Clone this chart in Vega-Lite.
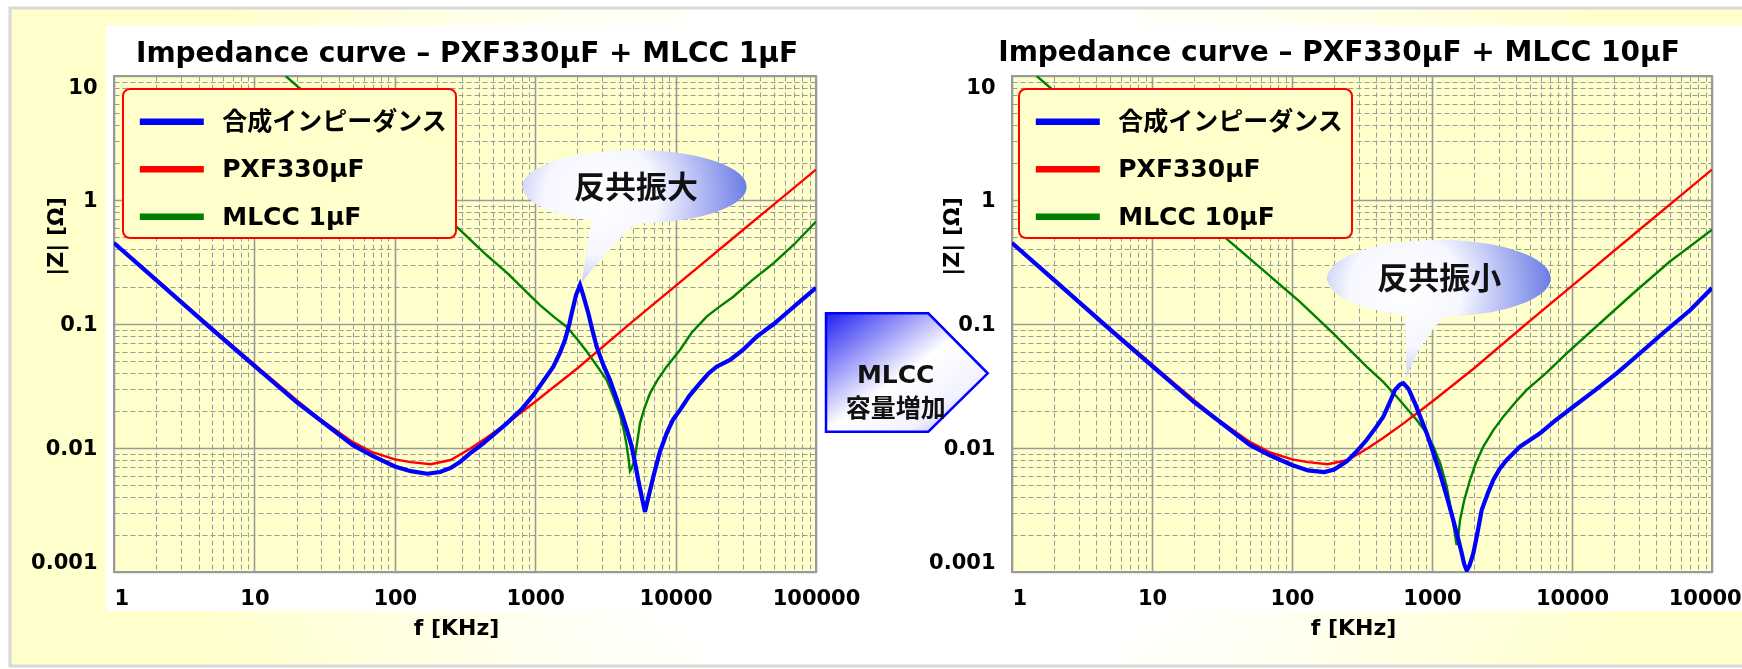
{
  "$schema": "https://vega.github.io/schema/vega-lite/v6.json",
  "autosize": {"type": "none"},
  "padding": {"left": 114, "top": 76, "right": 1628, "bottom": 593},
  "background": "#FFFFFF",
  "bounds": "flush",
  "spacing": 196,
  "datasets": {
    "pxf": [{"f":1,"z":0.455},{"f":2,"z":0.229},{"f":5,"z":0.0925},{"f":10,"z":0.0472},{"f":20,"z":0.0243},{"f":30,"z":0.0168},{"f":50,"z":0.0112},{"f":70,"z":0.0092},{"f":100,"z":0.0081},{"f":130,"z":0.0077},{"f":180,"z":0.0074},{"f":250,"z":0.0080},{"f":350,"z":0.0100},{"f":450,"z":0.0121},{"f":627,"z":0.0158},{"f":1000,"z":0.0236},{"f":2000,"z":0.044},{"f":5000,"z":0.106},{"f":10000,"z":0.203},{"f":30000,"z":0.57},{"f":100000,"z":1.76}],
    "blueL": [{"f":1,"z":0.45},{"f":2,"z":0.226},{"f":5,"z":0.0905},{"f":10,"z":0.046},{"f":20,"z":0.0234},{"f":30,"z":0.0165},{"f":50,"z":0.0106},{"f":70,"z":0.0086},{"f":100,"z":0.0071},{"f":130,"z":0.0065},{"f":170,"z":0.0062},{"f":210,"z":0.0064},{"f":250,"z":0.0069},{"f":291,"z":0.0077},{"f":350,"z":0.0092},{"f":427,"z":0.0109},{"f":520,"z":0.0132},{"f":627,"z":0.0158},{"f":800,"z":0.0205},{"f":970,"z":0.0267},{"f":1150,"z":0.035},{"f":1346,"z":0.0453},{"f":1500,"z":0.0585},{"f":1630,"z":0.0743},{"f":1750,"z":0.1},{"f":1820,"z":0.122},{"f":1950,"z":0.17},{"f":2085,"z":0.206},{"f":2200,"z":0.17},{"f":2390,"z":0.122},{"f":2550,"z":0.09},{"f":2740,"z":0.0656},{"f":3050,"z":0.047},{"f":3410,"z":0.0353},{"f":3750,"z":0.026},{"f":4130,"z":0.0191},{"f":4500,"z":0.014},{"f":4870,"z":0.01026},{"f":5150,"z":0.0075},{"f":5420,"z":0.00552},{"f":5750,"z":0.004},{"f":6050,"z":0.00306},{"f":6400,"z":0.004},{"f":6940,"z":0.00587},{"f":7700,"z":0.0092},{"f":8630,"z":0.01315},{"f":9600,"z":0.017},{"f":10740,"z":0.0202},{"f":12500,"z":0.0262},{"f":14920,"z":0.0333},{"f":17000,"z":0.0395},{"f":19600,"z":0.0453},{"f":24400,"z":0.0513},{"f":30000,"z":0.0615},{"f":37800,"z":0.079},{"f":50000,"z":0.1},{"f":65300,"z":0.1297},{"f":80000,"z":0.158},{"f":100000,"z":0.196}],
    "greenL": [{"f":16.7,"z":10},{"f":30,"z":5.6},{"f":50,"z":3.35},{"f":100,"z":1.68},{"f":200,"z":0.84},{"f":291,"z":0.575},{"f":450,"z":0.36},{"f":627,"z":0.26},{"f":850,"z":0.185},{"f":1082,"z":0.142},{"f":1400,"z":0.111},{"f":1675,"z":0.0951},{"f":2000,"z":0.075},{"f":2328,"z":0.06},{"f":2750,"z":0.046},{"f":3230,"z":0.0353},{"f":3600,"z":0.026},{"f":4020,"z":0.0185},{"f":4300,"z":0.0135},{"f":4480,"z":0.0105},{"f":4650,"z":0.0078},{"f":4730,"z":0.0065},{"f":4850,"z":0.0068},{"f":5000,"z":0.0075},{"f":5140,"z":0.0085},{"f":5350,"z":0.0115},{"f":5575,"z":0.0158},{"f":6000,"z":0.021},{"f":6570,"z":0.0276},{"f":7500,"z":0.036},{"f":8630,"z":0.0453},{"f":10740,"z":0.0617},{"f":13000,"z":0.085},{"f":16640,"z":0.1146},{"f":20000,"z":0.135},{"f":25760,"z":0.166},{"f":35000,"z":0.225},{"f":49650,"z":0.308},{"f":70000,"z":0.44},{"f":100000,"z":0.67}],
    "blueR": [{"f":1,"z":0.45},{"f":2,"z":0.226},{"f":5,"z":0.0905},{"f":10,"z":0.046},{"f":20,"z":0.0234},{"f":30,"z":0.0165},{"f":50,"z":0.0106},{"f":70,"z":0.0087},{"f":100,"z":0.0073},{"f":130,"z":0.0066},{"f":170,"z":0.0064},{"f":200,"z":0.0067},{"f":246,"z":0.0078},{"f":290,"z":0.0094},{"f":341,"z":0.0116},{"f":400,"z":0.0148},{"f":449,"z":0.0179},{"f":500,"z":0.0235},{"f":544,"z":0.0294},{"f":590,"z":0.0325},{"f":624,"z":0.0333},{"f":680,"z":0.03},{"f":756,"z":0.0229},{"f":830,"z":0.0175},{"f":917,"z":0.01315},{"f":1020,"z":0.0092},{"f":1140,"z":0.00625},{"f":1280,"z":0.004},{"f":1419,"z":0.00262},{"f":1530,"z":0.0019},{"f":1629,"z":0.00142},{"f":1700,"z":0.00115},{"f":1770,"z":0.00103},{"f":1850,"z":0.00112},{"f":1974,"z":0.00142},{"f":2100,"z":0.002},{"f":2264,"z":0.00316},{"f":2500,"z":0.0043},{"f":2741,"z":0.00552},{"f":3050,"z":0.0068},{"f":3415,"z":0.008},{"f":4253,"z":0.01026},{"f":5907,"z":0.01315},{"f":7500,"z":0.0165},{"f":10210,"z":0.0215},{"f":14500,"z":0.029},{"f":20830,"z":0.04},{"f":30000,"z":0.057},{"f":47400,"z":0.0895},{"f":70000,"z":0.1296},{"f":100000,"z":0.195}],
    "greenR": [{"f":1.5,"z":10},{"f":10,"z":1.59},{"f":30,"z":0.551},{"f":114,"z":0.151},{"f":197,"z":0.0841},{"f":341,"z":0.0453},{"f":450,"z":0.034},{"f":560,"z":0.0259},{"f":778,"z":0.0168},{"f":900,"z":0.0135},{"f":1023,"z":0.01026},{"f":1150,"z":0.0074},{"f":1274,"z":0.00488},{"f":1380,"z":0.003},{"f":1450,"z":0.0021},{"f":1500,"z":0.00165},{"f":1545,"z":0.002},{"f":1585,"z":0.00262},{"f":1700,"z":0.0038},{"f":1868,"z":0.00552},{"f":2050,"z":0.0075},{"f":2326,"z":0.01026},{"f":2750,"z":0.014},{"f":3230,"z":0.0179},{"f":4000,"z":0.0238},{"f":4745,"z":0.0294},{"f":6500,"z":0.04},{"f":9160,"z":0.058},{"f":15000,"z":0.0959},{"f":27400,"z":0.177},{"f":50000,"z":0.319},{"f":100000,"z":0.575}]
  },
  "hconcat": [
    {
      "width": 702,
      "height": 496,
      "title": {"text": "Impedance curve – PXF330μF + MLCC 1μF", "anchor": "middle", "frame": "group", "baseline": "alphabetic", "offset": -87.5, "dx": 2},
      "layer": [
        {
          "data": {"values": [{}]},
          "mark": {"type": "point", "filled": true, "opacity": 1, "size": 40000, "strokeWidth": 0, "blend": "multiply",
            "shape": "M-1.04,-0.68 L17,-0.68 L17,5.9 L-1.04,5.9 Z M-0.08,-0.504 L-0.08,5.35 L7.087,5.35 L7.087,-0.504 Z M8.893,-0.504 L8.893,5.35 L16.9,5.35 L16.9,-0.504 Z",
            "fill": {"gradient": "radial", "x1": 0.5, "y1": 0.5, "r1": 0, "x2": 0.5, "y2": 0.5, "r2": 0.5,
              "stops": [{"offset": 0, "color": "#FFFFFF"}, {"offset": 0.4, "color": "#FFFFFF"}, {"offset": 0.85, "color": "#FFFFCC"}, {"offset": 1, "color": "#FFFFCC"}]}},
          "encoding": {
            "x": {"datum": 1, "type": "quantitative"},
            "y": {"datum": 10, "type": "quantitative"}
          }
        },
        {
          "data": {"values": [{}]},
          "mark": {"type": "point", "filled": false, "opacity": 1, "size": 40000, "stroke": "#D8D8D8", "strokeWidth": 3,
            "shape": "M-1.04,-0.68 L17,-0.68 L17,5.9 L-1.04,5.9 Z"},
          "encoding": {
            "x": {"datum": 1, "type": "quantitative"},
            "y": {"datum": 10, "type": "quantitative"}
          }
        },
        {
          "data": {"name": "greenL"},
          "mark": {"type": "line", "strokeWidth": 2.4, "clip": true},
          "encoding": {
            "x": {"field": "f", "type": "quantitative", "scale": {"type": "log", "domain": [1, 100000], "nice": false},
              "axis": {"values": [1,2,3,4,5,6,7,8,9,10,20,30,40,50,60,70,80,90,100,200,300,400,500,600,700,800,900,1000,2000,3000,4000,5000,6000,7000,8000,9000,10000,20000,30000,40000,50000,60000,70000,80000,90000,100000],
                "labelExpr": "indexof([1,10,100,1000,10000,100000], datum.value) >= 0 ? format(datum.value, 'd') : ''",
                "gridDash": {"condition": {"test": "indexof([1,10,100,1000,10000,100000], datum.value) >= 0", "value": []}, "value": [5, 3]},
                "gridWidth": {"condition": {"test": "indexof([1,10,100,1000,10000,100000], datum.value) >= 0", "value": 1.6}, "value": 1},
                "labelAlign": {"condition": {"test": "datum.value == 1", "value": "left"}, "value": "center"},
                "title": "f [KHz]", "titleX": 342, "titleY": 55}},
            "y": {"field": "z", "type": "quantitative", "scale": {"type": "log", "domain": [0.001, 10], "nice": false},
              "axis": {"values": [0.001,0.002,0.003,0.004,0.005,0.006,0.007,0.008,0.009,0.01,0.02,0.03,0.04,0.05,0.06,0.07,0.08,0.09,0.1,0.2,0.3,0.4,0.5,0.6,0.7,0.8,0.9,1,2,3,4,5,6,7,8,9,10],
                "labelExpr": "indexof([0.001,0.01,0.1,1,10], datum.value) >= 0 ? '' + datum.value : ''",
                "gridDash": {"condition": {"test": "indexof([0.001,0.01,0.1,1,10], datum.value) >= 0", "value": []}, "value": [5, 3]},
                "gridWidth": {"condition": {"test": "indexof([0.001,0.01,0.1,1,10], datum.value) >= 0", "value": 1.6}, "value": 1},
                "title": "|Z| [Ω]", "titleX": -59, "titleY": 160}},
            "color": {"datum": "MLCC 1μF", "type": "nominal",
              "scale": {"domain": ["合成インピーダンス", "PXF330μF", "MLCC 1μF"], "range": ["#0000FF", "#FF0000", "#008000"]},
              "legend": {"legendX": 9, "legendY": 13, "title": " "}}
          }
        },
        {
          "data": {"name": "pxf"},
          "mark": {"type": "line", "strokeWidth": 2.4, "clip": true},
          "encoding": {
            "x": {"field": "f", "type": "quantitative"},
            "y": {"field": "z", "type": "quantitative"},
            "color": {"datum": "PXF330μF", "type": "nominal"}
          }
        },
        {
          "data": {"name": "blueL"},
          "mark": {"type": "line", "strokeWidth": 4.2, "clip": true},
          "encoding": {
            "x": {"field": "f", "type": "quantitative"},
            "y": {"field": "z", "type": "quantitative"},
            "color": {"datum": "合成インピーダンス", "type": "nominal"}
          }
        },
        {
          "data": {"values": [{}]},
          "mark": {"type": "point", "filled": true, "opacity": 1, "size": 40000, "strokeWidth": 0,
            "shape": "M1.667,-0.984 C1.667,-0.7813 1.1656,-0.617 0.547,-0.617 C-0.0716,-0.617 -0.573,-0.7813 -0.573,-0.984 C-0.573,-1.1867 -0.0716,-1.351 0.547,-1.351 C1.1656,-1.351 1.667,-1.1867 1.667,-0.984 Z M0.015,-0.02 L0.117,-0.66 L0.6,-0.64 Q0.3,-0.4 0.015,-0.02 Z",
            "fill": {"gradient": "radial", "x1": 0.35, "y1": 0.42, "r1": 0, "x2": 0.35, "y2": 0.42, "r2": 0.72,
              "stops": [{"offset": 0, "color": "#FFFFFF"}, {"offset": 0.35, "color": "#F6F7FF"}, {"offset": 1, "color": "#5568E2"}]}},
          "encoding": {
            "x": {"datum": 2085, "type": "quantitative"},
            "y": {"datum": 0.206, "type": "quantitative"}
          }
        },
        {
          "data": {"values": [{}]},
          "mark": {"type": "text", "text": "反共振大", "font": "Noto Sans CJK JP", "fontSize": 31, "fontWeight": "bold", "color": "#111111", "align": "center", "baseline": "middle", "dx": 56, "dy": -96},
          "encoding": {
            "x": {"datum": 2085, "type": "quantitative"},
            "y": {"datum": 0.206, "type": "quantitative"}
          }
        },
        {
          "data": {"values": [{}]},
          "mark": {"type": "point", "filled": true, "opacity": 1, "size": 40000, "stroke": "#0000FF", "strokeWidth": 2.5,
            "shape": "M-0.817,-0.6 L0.206,-0.6 L0.8,0 L0.206,0.584 L-0.817,0.584 Z",
            "fill": {"gradient": "linear", "x1": 0, "y1": 0, "x2": 1, "y2": 1,
              "stops": [{"offset": 0, "color": "#2020F2"}, {"offset": 0.5, "color": "#FFFFFF"}, {"offset": 0.75, "color": "#F2F2FF"}, {"offset": 1, "color": "#8A8AEC"}]}},
          "encoding": {
            "x": {"datum": 450000, "type": "quantitative"},
            "y": {"datum": 0.04, "type": "quantitative"}
          }
        },
        {
          "data": {"values": [{}]},
          "mark": {"type": "text", "text": "MLCC\n容量増加", "lineBreak": "\n", "lineHeight": 34, "font": "DejaVu Sans, Noto Sans CJK JP", "fontSize": 25, "fontWeight": "bold", "color": "#111111", "align": "center", "baseline": "middle", "dx": -12, "dy": 2},
          "encoding": {
            "x": {"datum": 450000, "type": "quantitative"},
            "y": {"datum": 0.04, "type": "quantitative"}
          }
        }
      ]
    },
    {
      "width": 700,
      "height": 496,
      "title": {"text": "Impedance curve – PXF330μF + MLCC 10μF", "anchor": "middle", "frame": "group", "baseline": "alphabetic", "offset": -18, "dx": -23},
      "layer": [
        {
          "data": {"name": "greenR"},
          "mark": {"type": "line", "strokeWidth": 2.4, "clip": true},
          "encoding": {
            "x": {"field": "f", "type": "quantitative", "scale": {"type": "log", "domain": [1, 100000], "nice": false},
              "axis": {"values": [1,2,3,4,5,6,7,8,9,10,20,30,40,50,60,70,80,90,100,200,300,400,500,600,700,800,900,1000,2000,3000,4000,5000,6000,7000,8000,9000,10000,20000,30000,40000,50000,60000,70000,80000,90000,100000],
                "labelExpr": "indexof([1,10,100,1000,10000,100000], datum.value) >= 0 ? format(datum.value, 'd') : ''",
                "gridDash": {"condition": {"test": "indexof([1,10,100,1000,10000,100000], datum.value) >= 0", "value": []}, "value": [5, 3]},
                "gridWidth": {"condition": {"test": "indexof([1,10,100,1000,10000,100000], datum.value) >= 0", "value": 1.6}, "value": 1},
                "labelAlign": {"condition": {"test": "datum.value == 1", "value": "left"}, "value": "center"},
                "title": "f [KHz]", "titleX": 341, "titleY": 55}},
            "y": {"field": "z", "type": "quantitative", "scale": {"type": "log", "domain": [0.001, 10], "nice": false},
              "axis": {"values": [0.001,0.002,0.003,0.004,0.005,0.006,0.007,0.008,0.009,0.01,0.02,0.03,0.04,0.05,0.06,0.07,0.08,0.09,0.1,0.2,0.3,0.4,0.5,0.6,0.7,0.8,0.9,1,2,3,4,5,6,7,8,9,10],
                "labelExpr": "indexof([0.001,0.01,0.1,1,10], datum.value) >= 0 ? '' + datum.value : ''",
                "gridDash": {"condition": {"test": "indexof([0.001,0.01,0.1,1,10], datum.value) >= 0", "value": []}, "value": [5, 3]},
                "gridWidth": {"condition": {"test": "indexof([0.001,0.01,0.1,1,10], datum.value) >= 0", "value": 1.6}, "value": 1},
                "title": "|Z| [Ω]", "titleX": -61, "titleY": 160}},
            "color": {"datum": "MLCC 10μF", "type": "nominal",
              "scale": {"domain": ["合成インピーダンス", "PXF330μF", "MLCC 10μF"], "range": ["#0000FF", "#FF0000", "#008000"]},
              "legend": {"legendX": 7, "legendY": 13, "title": " "}}
          }
        },
        {
          "data": {"name": "pxf"},
          "mark": {"type": "line", "strokeWidth": 2.4, "clip": true},
          "encoding": {
            "x": {"field": "f", "type": "quantitative"},
            "y": {"field": "z", "type": "quantitative"},
            "color": {"datum": "PXF330μF", "type": "nominal"}
          }
        },
        {
          "data": {"name": "blueR"},
          "mark": {"type": "line", "strokeWidth": 4.2, "clip": true},
          "encoding": {
            "x": {"field": "f", "type": "quantitative"},
            "y": {"field": "z", "type": "quantitative"},
            "color": {"datum": "合成インピーダンス", "type": "nominal"}
          }
        },
        {
          "data": {"values": [{}]},
          "mark": {"type": "point", "filled": true, "opacity": 1, "size": 40000, "strokeWidth": 0,
            "shape": "M1.474,-1.049 C1.474,-0.8375 0.974,-0.666 0.357,-0.666 C-0.26,-0.666 -0.76,-0.8375 -0.76,-1.049 C-0.76,-1.2605 -0.26,-1.432 0.357,-1.432 C0.974,-1.432 1.474,-1.2605 1.474,-1.049 Z M0.034,-0.065 L0.017,-0.7 L0.434,-0.69 Q0.18,-0.45 0.034,-0.065 Z",
            "fill": {"gradient": "radial", "x1": 0.35, "y1": 0.42, "r1": 0, "x2": 0.35, "y2": 0.42, "r2": 0.72,
              "stops": [{"offset": 0, "color": "#FFFFFF"}, {"offset": 0.35, "color": "#F6F7FF"}, {"offset": 1, "color": "#5568E2"}]}},
          "encoding": {
            "x": {"datum": 624, "type": "quantitative"},
            "y": {"datum": 0.0333, "type": "quantitative"}
          }
        },
        {
          "data": {"values": [{}]},
          "mark": {"type": "text", "text": "反共振小", "font": "Noto Sans CJK JP", "fontSize": 31, "fontWeight": "bold", "color": "#111111", "align": "center", "baseline": "middle", "dx": 36, "dy": -103},
          "encoding": {
            "x": {"datum": 624, "type": "quantitative"},
            "y": {"datum": 0.0333, "type": "quantitative"}
          }
        }
      ]
    }
  ],
  "resolve": {"scale": {"color": "independent", "x": "independent", "y": "independent"}, "legend": {"color": "independent"}},
  "config": {
    "view": {"stroke": "#9A9A9A", "strokeWidth": 2, "fill": "#FFFFCC"},
    "font": "DejaVu Sans",
    "title": {"font": "DejaVu Sans", "fontSize": 28, "fontWeight": "bold", "color": "#000000"},
    "axis": {
      "grid": true, "gridColor": "#9A9A9A", "ticks": false, "tickSize": 0, "domain": false,
      "labelFont": "DejaVu Sans", "labelFontSize": 21, "labelFontWeight": "bold", "labelColor": "#000000", "labelOverlap": false,
      "titleFont": "DejaVu Sans", "titleFontSize": 22, "titleFontWeight": "bold", "titleColor": "#000000",
      "titleBaseline": "middle", "titleAlign": "center"
    },
    "axisX": {"labelPadding": 15},
    "axisY": {"labelPadding": 17, "labelFlush": true, "labelAlign": "right", "titleAngle": -90},
    "legend": {
      "orient": "none", "titleFontSize": 1, "titlePadding": 11.2, "direction": "vertical",
      "symbolType": "M-4,0L4,0", "symbolSize": 256, "symbolStrokeWidth": 6.5, "symbolOffset": 28.3,
      "labelFont": "DejaVu Sans, Noto Sans CJK JP", "labelFontSize": 25, "labelFontWeight": "bold", "labelColor": "#000000", "labelLimit": 500,
      "labelOffset": 38, "rowPadding": 20.5, "padding": 8,
      "fillColor": "#FFFFCC", "strokeColor": "#FF0000", "strokeWidth": 2, "cornerRadius": 7
    }
  }
}
